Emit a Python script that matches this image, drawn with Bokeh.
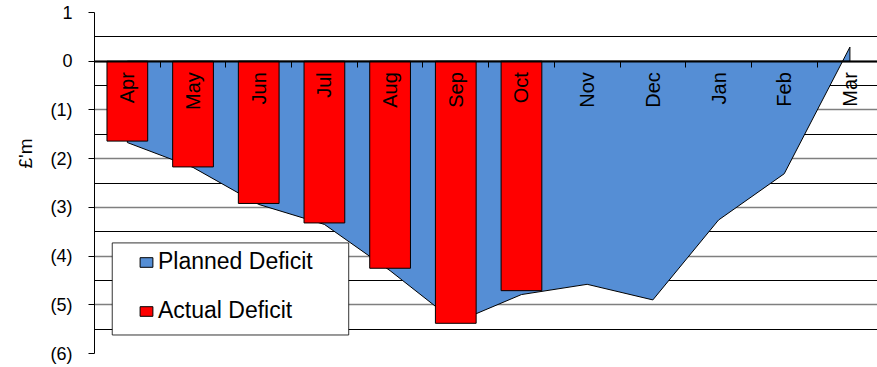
from math import pi
from bokeh.plotting import figure
from bokeh.models import (Range1d, FixedTicker, LinearAxis, Legend, LegendItem,
                          BoxAnnotation, Title)
from bokeh.core.properties import value
from bokeh.embed import file_html
from bokeh.resources import INLINE

# Monthly deficit, £m (financial year Apr-Mar)
months = ["Apr", "May", "Jun", "Jul", "Aug", "Sep", "Oct",
          "Nov", "Dec", "Jan", "Feb", "Mar"]
planned = [-1.67, -2.18, -2.94, -3.35, -4.30, -5.36, -4.79,
           -4.58, -4.90, -3.26, -2.31, 0.29]
actual = [-1.64, -2.17, -2.92, -3.32, -4.25, -5.38, -4.71]

y_ticks = [1, 0, -1, -2, -3, -4, -5, -6]
y_labels = ["1", "0", "(1)", "(2)", "(3)", "(4)", "(5)", "(6)"]

FONT = "Liberation Sans"
BLUE = "#558ED5"
RED = "#FF0000"

# category centres on a numeric axis
xc = [i + 0.5 for i in range(len(months))]
x_end = 11.92

p = figure(width=877, height=367,
           x_range=Range1d(0, x_end), y_range=Range1d(y_ticks[-1], y_ticks[0]),
           output_backend="svg", toolbar_location=None,
           x_axis_location=None,
           min_border_left=94, min_border_right=0,
           min_border_top=12, min_border_bottom=14)
p.outline_line_color = None
p.background_fill_color = "white"
p.border_fill_color = "white"

# horizontal grid: grey at whole millions, black at the halves
half_ticks = [t - 0.5 for t in y_ticks[:-1]]
p.ygrid.ticker = FixedTicker(ticks=y_ticks, minor_ticks=half_ticks)
p.ygrid.grid_line_color = "#7f7f7f"
p.ygrid.grid_line_width = 1.5
p.ygrid.minor_grid_line_color = "black"
p.ygrid.minor_grid_line_width = 1
p.xgrid.visible = False

# planned deficit as a filled area, closed along the zero line
area_x = [xc[0]] + xc + [xc[-1]]
area_y = [0] + planned + [0]
area_r = p.patch(area_x, area_y, fill_color=BLUE, line_color="black", line_width=1)

# actual deficit bars hanging from zero
bar_r = p.vbar(x=xc[:len(actual)], top=0, bottom=actual, width=0.62,
               fill_color=RED, line_color="black", line_width=1)

# month names, reading upwards, hanging just under the zero line
p.text(x=xc, y=[0] * len(months), text=months, angle=pi / 2,
       y_offset=11, text_align="right", text_baseline="middle",
       text_font=value(FONT), text_font_size="20px", text_color="black")

# value axis
yax = p.yaxis[0]
yax.ticker = FixedTicker(ticks=y_ticks)
yax.major_label_overrides = dict(zip(y_ticks, y_labels))
yax.axis_line_color = "black"
yax.axis_line_width = 1
yax.major_tick_out = 6
yax.major_tick_in = 0
yax.major_tick_line_color = "black"
yax.minor_tick_line_color = None
yax.major_label_standoff = 16
yax.major_label_text_font = FONT
yax.major_label_text_font_size = "18px"
yax.major_label_text_color = "black"

# unit caption beside the value axis, a little above centre
p.add_layout(Title(text="£'m", align="left", offset=185, standoff=23,
                   text_font=FONT, text_font_size="19px",
                   text_font_style="normal", text_color="black"), "left")

# category axis drawn along zero: boundary ticks
bound_axis = LinearAxis(ticker=FixedTicker(ticks=list(range(1, len(months)))),
                        fixed_location=0)
bound_axis.axis_line_color = "black"
bound_axis.axis_line_width = 2
bound_axis.major_tick_out = 6
bound_axis.major_tick_in = 0
bound_axis.major_tick_line_color = "black"
bound_axis.minor_tick_line_color = None
bound_axis.major_label_text_color = None
p.add_layout(bound_axis, "below")

# legend frame and entries
legend_box = BoxAnnotation(left=0.27, right=3.87, top=-3.73, bottom=-5.62,
                           fill_color="white", fill_alpha=1,
                           line_color="black", line_width=1, line_alpha=0.8)
p.add_layout(legend_box)

legend = Legend(items=[LegendItem(label="Planned Deficit", renderers=[area_r]),
                       LegendItem(label="Actual Deficit", renderers=[bar_r])],
                location=(44, 29), orientation="vertical",
                border_line_color=None, background_fill_alpha=0,
                padding=0, margin=0, spacing=22,
                glyph_width=16, glyph_height=12, label_height=24,
                label_standoff=4,
                label_text_font=FONT, label_text_font_size="23px",
                label_text_color="black")
p.add_layout(legend)

open("out.html", "w").write(file_html(p, INLINE))
